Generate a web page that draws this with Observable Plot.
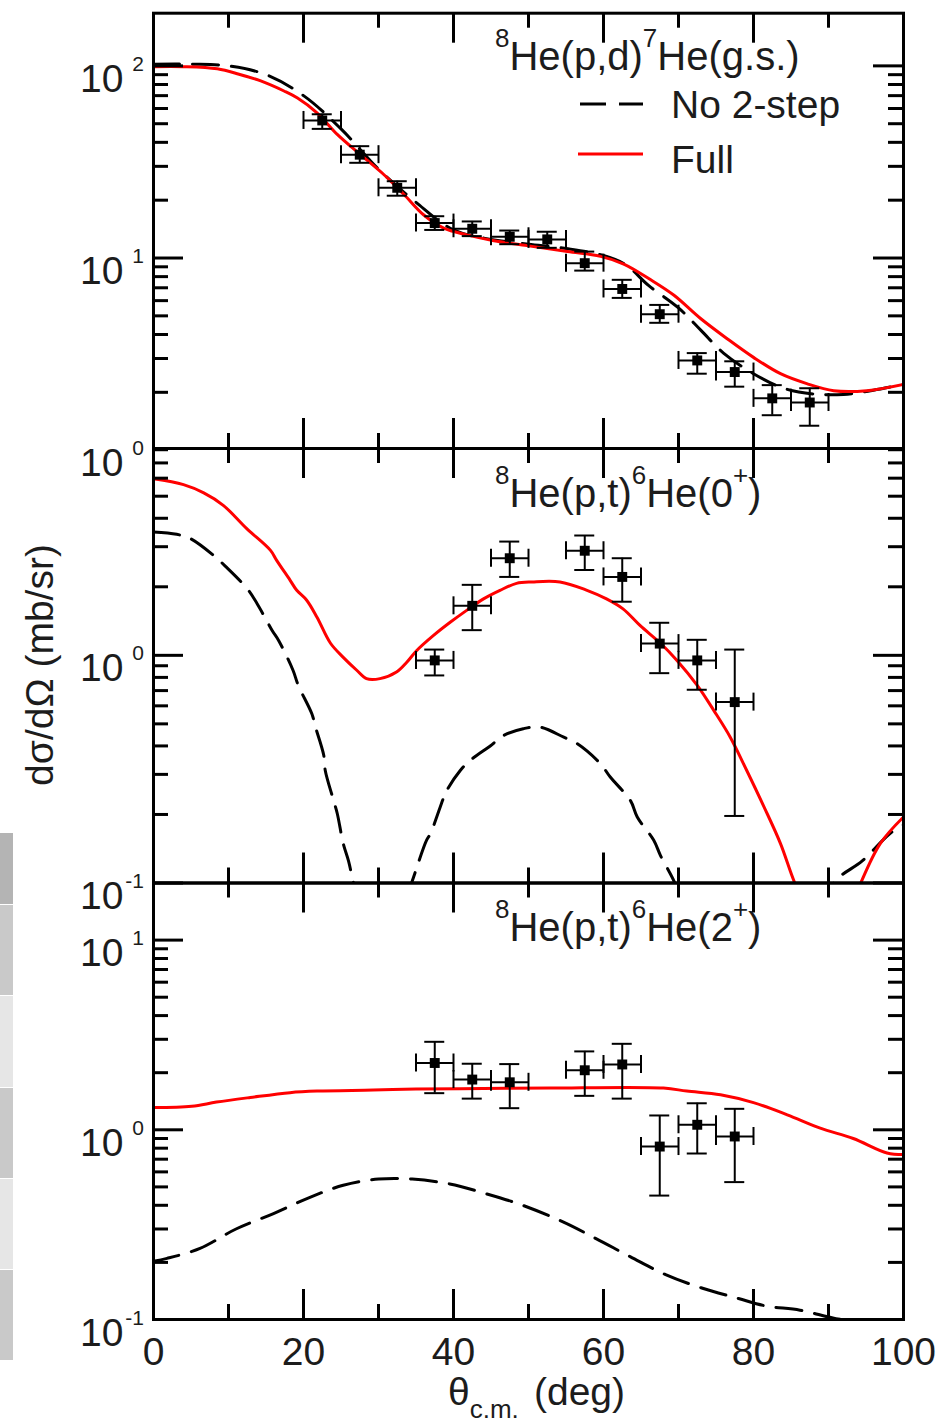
<!DOCTYPE html>
<html>
<head>
<meta charset="utf-8">
<script src="https://cdn.jsdelivr.net/npm/d3@7"></script>
<script src="https://cdn.jsdelivr.net/npm/@observablehq/plot@0.6"></script>
<style>
  html, body { margin: 0; padding: 0; background: #fff; }
  #wrap { position: relative; width: 945px; height: 1425px; overflow: hidden; }
  #wrap > svg { position: absolute; left: 0; top: 0; }
  .gbox { position: absolute; left: 0; width: 13px; }
</style>
</head>
<body>
<div id="wrap"></div>
<script>
// ---------------- DATA ----------------
// Panel 1: 8He(p,d)7He(g.s.)
const p1FullTheta = [0, 4, 8.5, 11.4, 14.3, 17.4, 19.2, 21.8, 24.5, 27.6, 30.7, 33.4, 36, 38.7, 41.8, 45.4, 49.8, 55.2, 59.6, 62.7, 66.3, 69.4, 72.9, 76.5, 80, 83.6, 87.1, 90.7, 95.1, 100];
const p1FullVal   = [99, 99, 96.5, 90.5, 83.5, 74, 68, 57, 44, 34.5, 27.2, 21.4, 16.8, 14.3, 13.2, 12.3, 11.6, 10.8, 10.2, 9.3, 7.7, 6.4, 4.86, 3.8, 3.04, 2.5, 2.22, 2.04, 2.04, 2.2];
const p1NoTheta = [0, 5, 10, 15, 20, 25, 30, 35, 40, 45, 50, 55, 60, 63, 66, 70, 73, 76, 80, 84, 88, 92, 96, 100];
const p1NoVal   = [102, 102, 100, 90, 70, 47, 29, 19.5, 14, 12.5, 11.8, 11.2, 10.3, 9.2, 7.2, 5.5, 4.2, 3.2, 2.5, 2.1, 1.96, 1.95, 2.05, 2.2];
const p1DataTheta = [22.5, 27.5, 32.5, 37.5, 42.5, 47.5, 52.5, 57.5, 62.5, 67.5, 72.5, 77.5, 82.5, 87.5];
const p1DataVal   = [52, 34.5, 23.2, 15.2, 14.2, 12.9, 12.5, 9.4, 6.9, 5.1, 2.93, 2.55, 1.86, 1.77];
const p1DataLo    = [47, 31.3, 21.1, 14.0, 13.0, 11.8, 11.3, 8.6, 6.2, 4.6, 2.5, 2.14, 1.52, 1.34];
const p1DataHi    = [56, 38.2, 25.1, 16.5, 15.5, 13.9, 13.7, 10.8, 7.7, 5.7, 3.2, 2.9, 2.18, 2.1];

// Panel 2: 8He(p,t)6He(0+)
const p2FullTheta = [0, 4, 6.7, 9.3, 12.4, 15.6, 16.4, 18.2, 19.1, 20.4, 21.8, 23.6, 25.3, 27.1, 28.4, 30.2, 32.4, 33.8, 35.1, 37.3, 39.6, 41.8, 44, 46.2, 48.4, 50.5, 54.2, 57.8, 60.4, 62.6, 64.9, 67.6, 69.8, 72.5, 74.7, 76.9, 79.1, 81.4, 83.6, 85.4, 88, 90.5, 92.5, 94.3, 96.9, 100];
const p2FullVal   = [5.96, 5.62, 5.17, 4.56, 3.61, 2.89, 2.62, 2.14, 1.93, 1.75, 1.47, 1.13, 0.98, 0.86, 0.79, 0.79, 0.845, 0.935, 1.05, 1.22, 1.40, 1.58, 1.77, 1.93, 2.07, 2.10, 2.10, 1.93, 1.77, 1.60, 1.35, 1.13, 0.95, 0.738, 0.573, 0.437, 0.312, 0.216, 0.149, 0.102, 0.065, 0.055, 0.07, 0.10, 0.149, 0.195];
const p2NoTheta = [0, 3.1, 4.9, 8.0, 9.6, 12.5, 13.8, 15.8, 16.7, 18.6, 19.3, 21.1, 21.6, 22.7, 22.9, 24.0, 24.5, 25.3, 26.0, 26.6, 28, 30, 32.5, 34.5, 36.4, 36.9, 38.7, 39.1, 40.9, 42.2, 44.9, 46.7, 49.3, 51.5, 54.7, 56.5, 59.6, 60.9, 63.6, 64.5, 66.7, 67.6, 69.4, 71, 75, 80, 85, 89, 90.9, 94.5, 98.2, 100];
const p2NoVal   = [3.48, 3.40, 3.26, 2.75, 2.46, 1.96, 1.69, 1.29, 1.16, 0.86, 0.738, 0.555, 0.484, 0.364, 0.312, 0.231, 0.202, 0.149, 0.125, 0.102, 0.065, 0.045, 0.065, 0.102, 0.154, 0.164, 0.238, 0.255, 0.312, 0.345, 0.40, 0.445, 0.476, 0.484, 0.437, 0.409, 0.334, 0.292, 0.23, 0.195, 0.154, 0.132, 0.102, 0.075, 0.04, 0.025, 0.04, 0.075, 0.102, 0.125, 0.165, 0.18];
const p2DataTheta = [37.5, 42.5, 47.5, 57.5, 62.5, 67.5, 72.5, 77.5];
const p2DataVal   = [0.95, 1.65, 2.67, 2.88, 2.21, 1.126, 0.95, 0.623];
const p2DataLo    = [0.816, 1.29, 2.21, 2.37, 1.72, 0.835, 0.706, 0.197];
const p2DataHi    = [1.06, 2.04, 3.16, 3.36, 2.67, 1.39, 1.17, 1.06];

// Panel 3: 8He(p,t)6He(2+)
const p3FullTheta = [0, 5.1, 8.4, 12.9, 18.2, 21.8, 29.3, 35, 44, 52.9, 68, 71.1, 75.6, 80, 84.5, 88.9, 93.3, 97.8, 100];
const p3FullVal   = [1.31, 1.33, 1.40, 1.48, 1.57, 1.60, 1.62, 1.64, 1.65, 1.66, 1.66, 1.60, 1.53, 1.39, 1.20, 1.02, 0.90, 0.755, 0.74];
const p3NoTheta = [0, 1.8, 6.2, 11, 16, 20.7, 25.3, 30, 34.5, 39.5, 44.2, 49, 54.6, 59, 63.6, 68.2, 73, 78, 81.6, 86.2, 91, 94, 97, 100];
const p3NoVal   = [0.203, 0.21, 0.237, 0.30, 0.362, 0.438, 0.51, 0.55, 0.55, 0.518, 0.462, 0.403, 0.327, 0.267, 0.214, 0.173, 0.147, 0.129, 0.118, 0.112, 0.101, 0.098, 0.094, 0.09];
const p3DataTheta = [37.5, 42.5, 47.5, 57.5, 62.5, 67.5, 72.5, 77.5];
const p3DataVal   = [2.25, 1.84, 1.78, 2.06, 2.21, 0.816, 1.063, 0.922];
const p3DataLo    = [1.56, 1.46, 1.30, 1.51, 1.46, 0.45, 0.75, 0.53];
const p3DataHi    = [2.91, 2.23, 2.22, 2.59, 2.84, 1.19, 1.38, 1.29];

const thetaErr = 2.5;

// Axis ticks and labels
const xMajorTicks = [0, 20, 40, 60, 80, 100];
const xMinorTicks = [10, 30, 50, 70, 90];
const yMajorTicks = [0.1, 1, 10, 100];
const yMinorTicks = [0.2,0.3,0.4,0.5,0.6,0.7,0.8,0.9, 2,3,4,5,6,7,8,9, 20,30,40,50,60,70,80,90];
const p1YLabels = [1, 10, 100];
const p2YLabels = [0.1, 1];
const p3YLabels = [0.1, 1, 10];

const panelTitles = [
  [["8", true], ["He(p,d)", false], ["7", true], ["He(g.s.)", false]],
  [["8", true], ["He(p,t)", false], ["6", true], ["He(0", false], ["+", true], [")", false]],
  [["8", true], ["He(p,t)", false], ["6", true], ["He(2", false], ["+", true], [")", false]]
];
const legendLabels = ["No 2-step", "Full"];
const yTitle = "dσ/dΩ (mb/sr)";
const xTitleMain = "θ", xTitleSub = "c.m.", xTitleUnit = "(deg)";

// ---------------- LAYOUT ----------------
const FONT = '"Liberation Sans", Arial, Helvetica, sans-serif';
const W = 945, H = 1425, ML = 153, MR = 42;
const PW = W - ML - MR;
const RED = "#ff0000";
const TXT = "#1c1c1c";

const wrap = document.getElementById("wrap");

// left-edge grey strips (part of the picture)
const stripes = [[833, 905, "#b4b4b4"], [905, 996, "#c9c9c9"], [996, 1088, "#e6e6e6"], [1088, 1179, "#c9c9c9"], [1179, 1270, "#e6e6e6"], [1270, 1361, "#c9c9c9"]];
for (const [a, b, c] of stripes) {
  const d = document.createElement("div");
  d.className = "gbox";
  d.style.top = a + "px"; d.style.height = (b - a - 1) + "px"; d.style.background = c;
  wrap.appendChild(d);
}

const zip = (a, b) => a.map((t, i) => ({t, v: b[i]}));
const pts = (t, v, lo, hi) => t.map((x, i) => ({t: x, v: v[i], lo: lo[i], hi: hi[i]}));

function panel(cfg) {
  const ph = cfg.bottom - cfg.top;
  const [lo, hi] = cfg.domain;
  const inDom = v => v >= lo * 0.999 && v <= hi * 1.001;
  const majors = yMajorTicks.filter(inDom);
  const minors = yMinorTicks.filter(v => v > lo && v < hi);
  const data = cfg.data;
  const marks = [
    Plot.line(cfg.no, {x: "t", y: "v", stroke: "black", strokeWidth: 3, strokeDasharray: "26,13", curve: "catmull-rom", clip: true}),
    Plot.line(cfg.full, {x: "t", y: "v", stroke: RED, strokeWidth: 3, curve: "catmull-rom", clip: true}),
    // error bars
    Plot.ruleX(data, {x: "t", y1: "lo", y2: "hi", stroke: "black", strokeWidth: 2}),
    Plot.ruleY(data, {y: "v", x1: d => d.t - thetaErr, x2: d => d.t + thetaErr, stroke: "black", strokeWidth: 2}),
    Plot.ruleY(data, {y: "lo", x1: "t", x2: "t", insetLeft: -10, insetRight: -10, stroke: "black", strokeWidth: 2}),
    Plot.ruleY(data, {y: "hi", x1: "t", x2: "t", insetLeft: -10, insetRight: -10, stroke: "black", strokeWidth: 2}),
    Plot.ruleX(data, {x: d => d.t - thetaErr, y1: "v", y2: "v", insetTop: -9, insetBottom: -9, stroke: "black", strokeWidth: 2}),
    Plot.ruleX(data, {x: d => d.t + thetaErr, y1: "v", y2: "v", insetTop: -9, insetBottom: -9, stroke: "black", strokeWidth: 2}),
    Plot.dot(data, {x: "t", y: "v", symbol: "square", r: 5.6, fill: "black", stroke: null}),
    // inward ticks on all four sides
    Plot.tickY(majors, {y: d => d, insetRight: PW - 30, stroke: "black", strokeWidth: 3}),
    Plot.tickY(majors, {y: d => d, insetLeft: PW - 30, stroke: "black", strokeWidth: 3}),
    Plot.tickY(minors, {y: d => d, insetRight: PW - 15, stroke: "black", strokeWidth: 3}),
    Plot.tickY(minors, {y: d => d, insetLeft: PW - 15, stroke: "black", strokeWidth: 3}),
    Plot.tickX(xMajorTicks, {x: d => d, insetTop: ph - 30, stroke: "black", strokeWidth: 3}),
    Plot.tickX(xMajorTicks, {x: d => d, insetBottom: ph - 30, stroke: "black", strokeWidth: 3}),
    Plot.tickX(xMinorTicks, {x: d => d, insetTop: ph - 15, stroke: "black", strokeWidth: 3}),
    Plot.tickX(xMinorTicks, {x: d => d, insetBottom: ph - 15, stroke: "black", strokeWidth: 3}),
    Plot.frame({stroke: "black", strokeWidth: 3}),
    // y tick labels 10^n
    Plot.text(cfg.labels, {y: d => d, text: () => "10", frameAnchor: "left", textAnchor: "end", lineAnchor: "bottom", dx: -30, dy: 26, fontSize: 39, fill: TXT}),
    Plot.text(cfg.labels, {y: d => d, text: d => String(Math.round(Math.log10(d))), frameAnchor: "left", textAnchor: "end", lineAnchor: "bottom", dx: -9.5, dy: 5, fontSize: 21, fill: TXT})
  ];
  if (cfg.xLabels) {
    marks.push(Plot.text(xMajorTicks, {x: d => d, text: d => String(d), frameAnchor: "bottom", lineAnchor: "bottom", dy: 45, fontSize: 39, fill: TXT}));
  }
  return Plot.plot({
    width: W, height: H,
    marginLeft: ML, marginRight: MR, marginTop: cfg.top, marginBottom: H - cfg.bottom,
    x: {domain: [0, 100], axis: null},
    y: {type: "log", domain: cfg.domain, axis: null},
    style: {background: "transparent", fontFamily: FONT, overflow: "visible"},
    marks
  });
}

wrap.appendChild(panel({
  top: 12.7, bottom: 448, domain: [1.02, 188], labels: p1YLabels,
  full: zip(p1FullTheta, p1FullVal), no: zip(p1NoTheta, p1NoVal),
  data: pts(p1DataTheta, p1DataVal, p1DataLo, p1DataHi)
}));
wrap.appendChild(panel({
  top: 448, bottom: 882.5, domain: [0.1, 8.1], labels: p2YLabels,
  full: zip(p2FullTheta, p2FullVal), no: zip(p2NoTheta, p2NoVal),
  data: pts(p2DataTheta, p2DataVal, p2DataLo, p2DataHi)
}));
wrap.appendChild(panel({
  top: 882.5, bottom: 1319, domain: [0.1, 20], labels: p3YLabels, xLabels: true,
  full: zip(p3FullTheta, p3FullVal), no: zip(p3NoTheta, p3NoVal),
  data: pts(p3DataTheta, p3DataVal, p3DataLo, p3DataHi)
}));

// ---------------- annotations (titles, legend, axis titles) ----------------
const ov = d3.select(wrap).append("svg").attr("width", W).attr("height", H)
  .style("font-family", FONT).attr("fill", TXT);

function richText(x, y, parts, size, supSize, shift) {
  const t = ov.append("text").attr("x", x).attr("y", y).attr("font-size", size);
  let prev = false;
  for (const [s, sup] of parts) {
    const sp = t.append("tspan").text(s);
    if (sup) sp.attr("font-size", supSize);
    if (sup && !prev) sp.attr("dy", -shift);
    if (!sup && prev) sp.attr("dy", shift);
    prev = sup;
  }
  return t;
}
richText(495, 70, panelTitles[0], 40, 26, 23);
richText(495, 507, panelTitles[1], 40, 26, 23);
richText(495, 941, panelTitles[2], 40, 26, 23);

// legend
ov.append("line").attr("x1", 580).attr("x2", 643).attr("y1", 104).attr("y2", 104)
  .attr("stroke", "black").attr("stroke-width", 3).attr("stroke-dasharray", "26,13");
ov.append("line").attr("x1", 578).attr("x2", 643).attr("y1", 154).attr("y2", 154)
  .attr("stroke", RED).attr("stroke-width", 3);
ov.append("text").attr("x", 671).attr("y", 118).attr("font-size", 39).text(legendLabels[0]);
ov.append("text").attr("x", 671).attr("y", 173).attr("font-size", 39).text(legendLabels[1]);

// y title
ov.append("text").attr("transform", "translate(53,665) rotate(-90)")
  .attr("text-anchor", "middle").attr("font-size", 39).text(yTitle);

// x title
const xt = ov.append("text").attr("x", 448).attr("y", 1405).attr("font-size", 39);
xt.append("tspan").text(xTitleMain);
xt.append("tspan").attr("font-size", 26).attr("dy", 13).text(xTitleSub);
xt.append("tspan").attr("x", 534).attr("dy", -13).text(xTitleUnit);
</script>
</body>
</html>
